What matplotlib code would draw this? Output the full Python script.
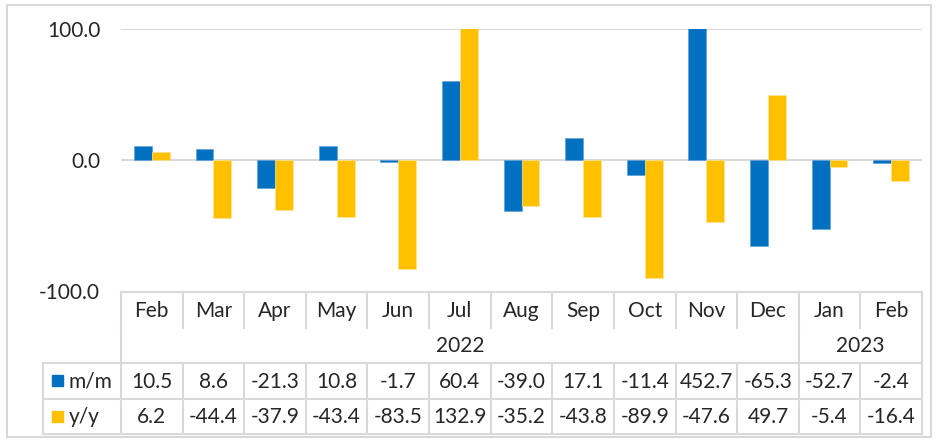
import matplotlib
matplotlib.use('Agg')
import matplotlib.pyplot as plt
from matplotlib.patches import Rectangle
import numpy as np

# data
months = ["Feb", "Mar", "Apr", "May", "Jun", "Jul", "Aug", "Sep", "Oct", "Nov", "Dec", "Jan", "Feb"]
years = ["2022", "2023"]
year_spans = [11, 2]  # number of months under each year
mm = [10.5, 8.6, -21.3, 10.8, -1.7, 60.4, -39.0, 17.1, -11.4, 452.7, -65.3, -52.7, -2.4]
yy = [6.2, -44.4, -37.9, -43.4, -83.5, 132.9, -35.2, -43.8, -89.9, -47.6, 49.7, -5.4, -16.4]
series_names = ["m/m", "y/y"]

BLUE = "#0070C0"
GOLD = "#FFC000"
GRID = "#D9D9D9"
TXT = "#262626"
plt.rcParams['font.family'] = ['Lato', 'DejaVu Sans']
FS = 15

W, H = 937, 443
fig = plt.figure(figsize=(W / 100, H / 100), dpi=100)

# plot area in pixels
left, right, top, bottom = 121, 922, 29, 291
ax = fig.add_axes([left / W, 1 - bottom / H, (right - left) / W, (bottom - top) / H])
n = len(months)
x = np.arange(n)
bw = 0.29
ax.bar(x - bw / 2, mm, bw, color=BLUE, edgecolor="#5B9BD5", linewidth=0.4, zorder=3)
ax.bar(x + bw / 2, yy, bw, color=GOLD, edgecolor="#FFE699", linewidth=0.4, zorder=3)
ax.set_xlim(-0.5, n - 0.5)
ax.set_ylim(-100, 100)
ax.set_yticks([-100, 0, 100])
ax.set_yticklabels([f"{v:.1f}" for v in [-100, 0, 100]], fontsize=FS, color=TXT)
ax.tick_params(axis='y', length=0, pad=15)
ax.set_xticks([])
for v in [0, 100]:
    ax.axhline(v, color=GRID, lw=1.5, zorder=1)
for s in ax.spines.values():
    s.set_visible(False)

# overlay in pixel coords for the data table
ov = fig.add_axes([0, 0, 1, 1])
ov.set_xlim(0, W)
ov.set_ylim(H, 0)
ov.axis('off')
ov.patch.set_alpha(0)

# outer chart border
ov.add_patch(Rectangle((7, 5), 924, 432, fill=False, edgecolor=GRID, lw=1.5))

cw = (right - left) / n
edges = [left + i * cw for i in range(n + 1)]
r0, r1, r2, r3, r4 = 292, 328, 363, 398.5, 434
lab_left = 43
lk = dict(color=GRID, lw=1.5)

# horizontal lines
ov.plot([left, right], [r0, r0], **lk)
ov.plot([lab_left, right], [r2, r2], **lk)
ov.plot([lab_left, right], [r3, r3], **lk)
ov.plot([lab_left, right], [r4, r4], **lk)
# vertical lines month row
for e in edges:
    ov.plot([e, e], [r0, r1], **lk)
# year row separators
ov.plot([left, left], [r1, r2], **lk)
ov.plot([right, right], [r1, r2], **lk)
acc = 0
for span in year_spans[:-1]:
    acc += span
    ov.plot([edges[acc], edges[acc]], [r1, r2], **lk)
# value rows
for e in [lab_left] + edges:
    ov.plot([e, e], [r2, r4], **lk)

# texts
for i, m in enumerate(months):
    cx = (edges[i] + edges[i + 1]) / 2
    ov.text(cx, (r0 + r1) / 2 + 1, m, ha='center', va='center', fontsize=FS, color=TXT)
    ov.text(cx, (r2 + r3) / 2 + 1, f"{mm[i]:.1f}", ha='center', va='center', fontsize=FS, color=TXT)
    ov.text(cx, (r3 + r4) / 2 + 1, f"{yy[i]:.1f}", ha='center', va='center', fontsize=FS, color=TXT)
acc = 0
for yr, span in zip(years, year_spans):
    cx = (edges[acc] + edges[acc + span]) / 2
    ov.text(cx, (r1 + r2) / 2 + 1, yr, ha='center', va='center', fontsize=FS, color=TXT)
    acc += span

# series labels with legend keys
for (ya, yb), name, col in [((r2, r3), series_names[0], BLUE), ((r3, r4), series_names[1], GOLD)]:
    cy = (ya + yb) / 2
    ov.add_patch(Rectangle((52, cy - 5.5), 11, 11, color=col))
    ov.text(69, cy + 1, name, ha='left', va='center', fontsize=FS, color=TXT)

fig.savefig("out.png", dpi=100)
